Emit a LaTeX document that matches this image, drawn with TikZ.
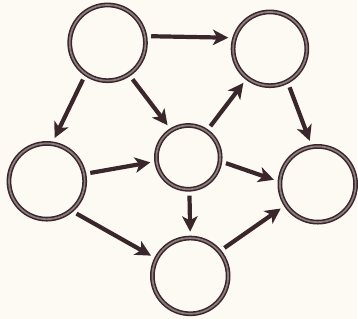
\documentclass[tikz,border=0pt]{standalone}
\usepackage{tikz}
\usetikzlibrary{arrows.meta}
\definecolor{paper}{HTML}{FCFAF2}
\definecolor{ink}{HTML}{3A272C}
\definecolor{inkmid}{HTML}{8E7E80}

\begin{document}
\begin{tikzpicture}[x=0.025cm, y=-0.025cm,
    ring/.style={circle, draw=ink, line width=1.1pt, double=inkmid, double distance=1.2pt, minimum size=1.9cm, inner sep=0pt},
    link/.style={-{Stealth[length=11pt, width=11pt, inset=3pt]}, draw=ink, line width=3pt, shorten <=4pt, shorten >=4pt}]
    \fill[paper] (0,0) rectangle (358,320);

    \node[ring] (a) at (108,43) {};
    \node[ring, minimum size=1.85cm] (b) at (271,49) {};
    \node[ring] (c) at (47,182) {};
    \node[ring, minimum size=1.6cm] (d) at (189,158) {};
    \node[ring] (e) at (319,185) {};
    \node[ring] (f) at (191,277) {};

    \draw[link] (a.10) -- (b.163);
    \draw[link] (a.235) -- (c.82);
    \draw[link] (a.304) -- (d.122);
    \draw[link] (d.55) -- (b.232);
    \draw[link] (b.298) -- (e.99);
    \draw[link] (c.11) -- (d.187);
    \draw[link] (d.353) -- (e.176);
    \draw[link] (d.272) -- (f.90);
    \draw[link] (c.310) -- (f.153);
    \draw[link] (f.40) -- (e.213);
\end{tikzpicture}
\end{document}
